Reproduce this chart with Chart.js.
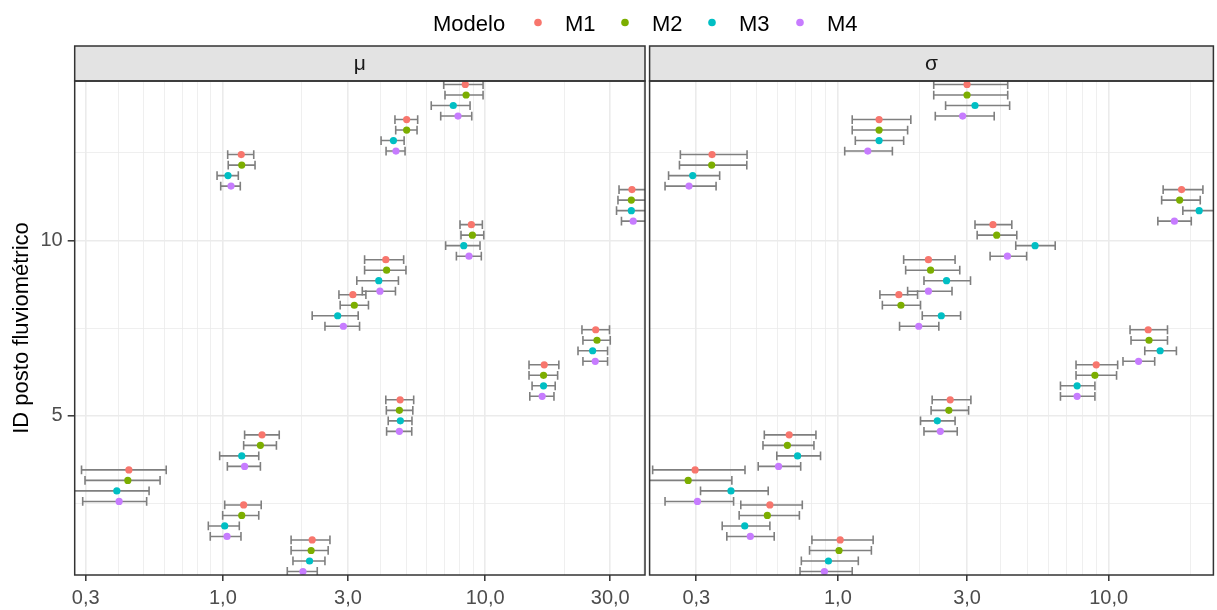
<!DOCTYPE html>
<html>
<head>
<meta charset="utf-8">
<script src="https://cdn.jsdelivr.net/npm/chart.js@4.4.1/dist/chart.umd.min.js"></script>
<style>
  html, body { margin: 0; padding: 0; background: #fff; }
  #wrap { position: relative; width: 1217px; height: 610px; }
  #wrap canvas { position: absolute; top: 0; }
</style>
</head>
<body>
<div id="wrap">
  <canvas id="cMu" width="1217" height="610" style="left:0"></canvas>
  <canvas id="cSigma" width="571" height="610" style="left:646px"></canvas>
</div>
<script>
// postos 1..14, um ponto por modelo (dodge vertical)
const ids = [1, 2, 3, 4, 5, 6, 7, 8, 9, 10, 11, 12, 13, 14];
const models = ["M1", "M2", "M3", "M4"];
const colors = ["#F8766D", "#7CAE00", "#00BFC4", "#C77CFF"];

// painel mu
const muM1 = [2.19, 1.20, 0.438, 1.41, 4.74, 16.8, 26.4, 3.13, 4.18, 8.86, 36.3, 1.175, 5.02, 8.40];
const muM1Lo = [1.82, 1.016, 0.289, 1.21, 4.18, 14.7, 23.4, 2.77, 3.47, 8.02, 32.4, 1.043, 4.53, 6.95];
const muM1Hi = [2.56, 1.40, 0.608, 1.64, 5.34, 19.1, 29.8, 3.51, 4.89, 9.76, 41.0, 1.311, 5.53, 9.82];
const muM2 = [2.17, 1.18, 0.434, 1.39, 4.71, 16.7, 26.7, 3.17, 4.21, 8.94, 36.1, 1.18, 5.02, 8.46];
const muM2Lo = [1.82, 0.998, 0.298, 1.20, 4.20, 14.7, 23.6, 2.80, 3.47, 8.09, 32.1, 1.048, 4.56, 7.03];
const muM2Hi = [2.52, 1.37, 0.576, 1.60, 5.30, 18.9, 30.0, 3.59, 4.99, 9.88, 41.5, 1.326, 5.50, 9.82];
const muM3 = [2.14, 1.016, 0.394, 1.18, 4.75, 16.7, 25.7, 2.74, 3.93, 8.29, 36.1, 1.046, 4.47, 7.56];
const muM3Lo = [1.85, 0.880, 0.265, 0.972, 4.27, 15.1, 22.6, 2.19, 3.24, 7.07, 31.7, 0.950, 4.01, 6.23];
const muM3Hi = [2.45, 1.155, 0.523, 1.37, 5.26, 18.5, 29.3, 3.28, 4.67, 9.56, 42.0, 1.145, 4.91, 8.76];
const muM4 = [2.02, 1.037, 0.402, 1.21, 4.71, 16.5, 26.3, 2.88, 3.97, 8.68, 36.7, 1.074, 4.57, 7.88];
const muM4Lo = [1.76, 0.895, 0.292, 1.04, 4.21, 14.8, 23.6, 2.45, 3.40, 7.77, 33.1, 0.981, 4.19, 6.77];
const muM4Hi = [2.29, 1.172, 0.512, 1.39, 5.25, 18.3, 29.3, 3.32, 4.55, 9.67, 41.0, 1.165, 4.95, 8.89];

// painel sigma
const sdM1 = [1.02, 0.561, 0.297, 0.661, 2.60, 9.00, 14.0, 1.68, 2.16, 3.74, 18.6, 0.343, 1.42, 3.00];
const sdM1Lo = [0.802, 0.438, 0.207, 0.535, 2.23, 7.58, 12.0, 1.43, 1.75, 3.21, 15.9, 0.262, 1.13, 2.26];
const sdM1Hi = [1.35, 0.739, 0.454, 0.830, 3.10, 10.8, 16.5, 1.97, 2.71, 4.39, 22.3, 0.462, 1.86, 4.24];
const sdM2 = [1.01, 0.549, 0.280, 0.651, 2.57, 8.90, 14.1, 1.71, 2.20, 3.86, 18.3, 0.342, 1.42, 3.00];
const sdM2Lo = [0.786, 0.432, 0.195, 0.529, 2.21, 7.58, 12.1, 1.46, 1.78, 3.27, 15.7, 0.260, 1.13, 2.26];
const sdM2Hi = [1.33, 0.721, 0.406, 0.816, 3.04, 10.7, 16.5, 2.02, 2.82, 4.58, 21.8, 0.461, 1.81, 4.24];
const sdM3 = [0.923, 0.453, 0.403, 0.710, 2.33, 7.65, 15.5, 2.41, 2.52, 5.35, 21.6, 0.291, 1.42, 3.21];
const sdM3Lo = [0.733, 0.374, 0.311, 0.595, 2.02, 6.64, 13.6, 2.05, 2.08, 4.54, 18.8, 0.237, 1.16, 2.50];
const sdM3Hi = [1.19, 0.561, 0.553, 0.863, 2.71, 8.90, 17.8, 2.84, 3.09, 6.35, 25.0, 0.366, 1.75, 4.31];
const sdM4 = [0.892, 0.475, 0.303, 0.604, 2.39, 7.65, 12.9, 1.99, 2.16, 4.23, 17.5, 0.282, 1.29, 2.89];
const sdM4Lo = [0.725, 0.389, 0.230, 0.508, 2.08, 6.64, 11.3, 1.69, 1.81, 3.65, 15.2, 0.230, 1.06, 2.29];
const sdM4Hi = [1.13, 0.582, 0.412, 0.729, 2.76, 8.90, 14.8, 2.36, 2.64, 4.98, 20.2, 0.355, 1.59, 3.78];

const xTickValues = [0.3, 1, 3, 10, 30];
const xTickLabels = ["0,3", "1,0", "3,0", "10,0", "30,0"];
const xGridValues = [0.2, 0.3, 0.4, 0.5, 0.6, 0.7, 0.8, 0.9, 1, 2, 3, 4, 5, 6, 7, 8, 9, 10, 20, 30, 40];
const yTickValues = [5, 10];
const yGridValues = [2.5, 5, 7.5, 10, 12.5];

const dodge = [0.45, 0.15, -0.15, -0.45];
const FONT = "'Liberation Sans', Arial, Helvetica, sans-serif";

const isMajorX = v => xTickValues.some(t => Math.abs(t - v) < 1e-9);
const isMajorY = v => yTickValues.some(t => Math.abs(t - v) < 1e-9);

function buildDatasets(est, lo, hi) {
    return models.map((m, k) => ({
        label: m,
        data: ids.map((id, i) => ({ x: est[k][i], y: id + dodge[k] })),
        errLo: lo[k],
        errHi: hi[k],
        backgroundColor: colors[k],
        borderWidth: 0,
        pointRadius: 3.6,
        pointHoverRadius: 3.6
    }));
}

// barras de erro desenhadas pelas escalas do grafico
const errorBars = {
    id: "errorBars",
    beforeDatasetsDraw(chart) {
        const { ctx, chartArea, scales } = chart;
        const cap = Math.abs(scales.y.getPixelForValue(0.125) - scales.y.getPixelForValue(0));
        ctx.save();
        ctx.beginPath();
        ctx.rect(chartArea.left, chartArea.top, chartArea.right - chartArea.left, chartArea.bottom - chartArea.top);
        ctx.clip();
        ctx.strokeStyle = "#7F7F7F";
        ctx.lineWidth = 1.6;
        chart.data.datasets.forEach(ds => {
            ds.data.forEach((p, i) => {
                const y = scales.y.getPixelForValue(p.y);
                const x1 = scales.x.getPixelForValue(ds.errLo[i]);
                const x2 = scales.x.getPixelForValue(ds.errHi[i]);
                ctx.beginPath();
                ctx.moveTo(x1, y); ctx.lineTo(x2, y);
                ctx.moveTo(x1, y - cap); ctx.lineTo(x1, y + cap);
                ctx.moveTo(x2, y - cap); ctx.lineTo(x2, y + cap);
                ctx.stroke();
            });
        });
        ctx.restore();
    }
};

// faixa do facet + borda do painel
const facetFrame = {
    id: "facetFrame",
    afterDraw(chart, args, opts) {
        const { ctx, chartArea } = chart;
        const w = chartArea.right - chartArea.left;
        ctx.save();
        ctx.fillStyle = "#E3E3E3";
        ctx.fillRect(chartArea.left, 46, w, chartArea.top - 46);
        ctx.strokeStyle = "#333333";
        ctx.lineWidth = 1.5;
        ctx.strokeRect(chartArea.left, 46, w, chartArea.top - 46);
        ctx.strokeRect(chartArea.left, chartArea.top, w, chartArea.bottom - chartArea.top);
        ctx.fillStyle = "#1A1A1A";
        ctx.font = "21px " + FONT;
        ctx.textAlign = "center";
        ctx.textBaseline = "middle";
        ctx.fillText(opts.text, chartArea.left + w / 2, (46 + chartArea.top) / 2 + 1);
        ctx.restore();
    }
};

// legenda no topo, estilo ggplot
const topLegend = {
    id: "topLegend",
    afterDraw(chart, args, opts) {
        if (!opts.show) return;
        const ctx = chart.ctx;
        ctx.save();
        ctx.fillStyle = "#000";
        ctx.font = "22px " + FONT;
        ctx.textBaseline = "alphabetic";
        ctx.textAlign = "left";
        ctx.fillText("Modelo", 433, 31);
        const dotX = [538, 625, 712, 800];
        models.forEach((m, k) => {
            ctx.fillStyle = colors[k];
            ctx.beginPath();
            ctx.arc(dotX[k], 22.5, 3.8, 0, Math.PI * 2);
            ctx.fill();
            ctx.fillStyle = "#000";
            ctx.fillText(m, dotX[k] + 27, 31);
        });
        ctx.restore();
    }
};

function makeX(min, max) {
    return {
        type: "logarithmic",
        min: min,
        max: max,
        afterBuildTicks: s => { s.ticks = xGridValues.filter(v => v >= min && v <= max).map(v => ({ value: v })); },
        afterFit: s => { s.height = 35; },
        border: { display: false },
        grid: {
            color: "#EBEBEB",
            lineWidth: c => (c.tick && isMajorX(c.tick.value)) ? 1.6 : 0.8,
            tickColor: c => (c.tick && isMajorX(c.tick.value)) ? "#333333" : "rgba(0,0,0,0)",
            tickWidth: 1.5,
            tickLength: 6
        },
        ticks: {
            autoSkip: false,
            maxRotation: 0,
            padding: 5,
            color: "#4D4D4D",
            font: { family: FONT, size: 20 },
            callback: v => {
                const i = xTickValues.findIndex(t => Math.abs(t - v) < 1e-9);
                return i >= 0 ? xTickLabels[i] : "";
            }
        }
    };
}

function makeY(width, withLabels) {
    return {
        type: "linear",
        min: 0.45,
        max: 14.55,
        afterBuildTicks: s => { s.ticks = yGridValues.map(v => ({ value: v })); },
        afterFit: s => { s.width = width; },
        border: { display: false },
        grid: {
            color: "#EBEBEB",
            lineWidth: c => (c.tick && isMajorY(c.tick.value)) ? 1.6 : 0.8,
            tickColor: c => (c.tick && isMajorY(c.tick.value)) ? "#333333" : "rgba(0,0,0,0)",
            tickWidth: 1.5,
            tickLength: 7,
            drawTicks: withLabels
        },
        ticks: {
            display: withLabels,
            padding: 5,
            color: "#4D4D4D",
            font: { family: FONT, size: 20 },
            callback: v => isMajorY(v) ? String(v) : ""
        },
        title: {
            display: withLabels,
            text: "ID posto fluviométrico",
            color: "#000",
            font: { family: FONT, size: 22 },
            padding: { top: 9, bottom: 0 }
        }
    };
}

function makePanel(canvasId, est, lo, hi, xMin, xMax, facet, yWidth, padRight, legend) {
    return new Chart(document.getElementById(canvasId), {
        type: "scatter",
        data: { datasets: buildDatasets(est, lo, hi) },
        options: {
            responsive: false,
            animation: false,
            devicePixelRatio: 1,
            layout: { padding: { top: 81, right: padRight, bottom: 0, left: 0 } },
            scales: { x: makeX(xMin, xMax), y: makeY(yWidth, legend) },
            plugins: {
                legend: { display: false },
                tooltip: { enabled: false },
                facetFrame: { text: facet },
                topLegend: { show: legend }
            }
        },
        plugins: [errorBars, facetFrame, topLegend]
    });
}

makePanel("cMu",
    [muM1, muM2, muM3, muM4], [muM1Lo, muM2Lo, muM3Lo, muM4Lo], [muM1Hi, muM2Hi, muM3Hi, muM4Hi],
    0.2722, 40.7, "μ", 74.7, 572, true);

makePanel("cSigma",
    [sdM1, sdM2, sdM3, sdM4], [sdM1Lo, sdM2Lo, sdM3Lo, sdM4Lo], [sdM1Hi, sdM2Hi, sdM3Hi, sdM4Hi],
    0.2017, 24.38, "σ", 1.3, 1.5, false);
</script>
</body>
</html>
